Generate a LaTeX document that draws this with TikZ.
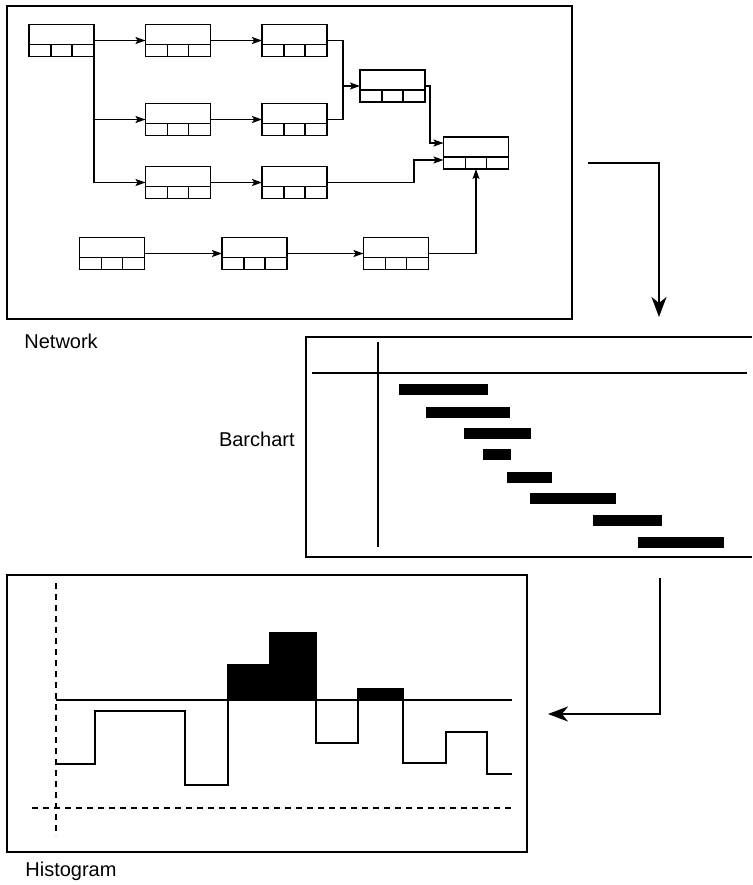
\documentclass[tikz,border=0pt]{standalone}
\usepackage{fontspec}
\setmainfont{Liberation Sans}
\usepackage{tikz}
\usetikzlibrary{arrows.meta, positioning}

\begin{document}
\begin{tikzpicture}[
    x=0.5pt, y=-0.5pt,
    actbox/.style={rectangle, draw, line width=0.9pt, minimum width=32.5pt, minimum height=16pt, inner sep=0pt, outer sep=0pt,
        path picture={
            \draw[line width=0.9pt] ([yshift=6pt]path picture bounding box.south west) -- ([yshift=6pt]path picture bounding box.south east);
            \draw[line width=0.9pt] ([xshift=11pt]path picture bounding box.south west) -- ([xshift=11pt,yshift=6pt]path picture bounding box.south west);
            \draw[line width=0.9pt] ([xshift=-11pt]path picture bounding box.south east) -- ([xshift=-11pt,yshift=6pt]path picture bounding box.south east);
        }},
    frame/.style={draw, line width=1pt},
    label/.style={font=\fontsize{10}{12}\selectfont, inner sep=0pt},
    arrow/.style={-{Stealth[length=5pt, width=3.5pt, inset=1pt]}, line width=0.6pt},
    bigarrow/.style={-{Stealth[length=10pt, width=7.5pt, inset=3pt]}, line width=1pt},
    hline/.style={line width=0.9pt},
    dline/.style={line width=0.8pt, dash pattern=on 3pt off 2.5pt}
]
\useasboundingbox (0,0) rectangle (752,885);

% Network panel
\draw[frame] (7,6) rectangle (572,319);
\node[label, anchor=base west] (netlabel) at (24,348) {Network};

% Activities
\node[actbox] (a1) at (61.5,40.5) {};
\node[actbox, right=25.75pt of a1] (a2) {};
\node[actbox, right=25.75pt of a2] (a3) {};
\node[actbox, below=23.5pt of a2] (b2) {};
\node[actbox, below=23.5pt of a3] (b3) {};
\node[actbox, below=15.5pt of b2] (c2) {};
\node[actbox, below=15.5pt of b3] (c3) {};
\node[actbox, below right=6.75pt and 16.5pt of a3] (m) {};
\node[actbox, below right=17.5pt and 9.25pt of m] (f) {};
\node[actbox] (d1) at (112,253.5) {};
\node[actbox, right=38.75pt of d1] (d2) {};
\node[actbox, right=38.25pt of d2] (d3) {};

% Junctions
\coordinate (j1) at (343,86);
\coordinate (j2) at (430,143);
\coordinate (j3) at (414,160);

% Links
\draw[arrow] (a1) -- (a2);
\draw[arrow] (a2) -- (a3);
\draw[arrow] (b2) -- (b3);
\draw[arrow] (c2) -- (c3);
\draw[arrow] (a1.east) |- (b2.west);
\draw[arrow] (a1.east) |- (c2.west);
\draw[arrow] (a3.east) -| (j1) -- (m.west);
\draw[line width=0.6pt] (b3.east) -| (j1);
\draw[arrow] (m.east) -| (j2) -- (j2 -| f.west);
\draw[arrow] (c3.east) -| (j3) -- (j3 -| f.west);
\draw[arrow] (d1) -- (d2);
\draw[arrow] (d2) -- (d3);
\draw[arrow] (d3.east) -| (f.south);

% Barchart panel
\draw[frame] (752,337) -| (306,557) -- (752,557);
\node[label, anchor=base east] (barlabel) at (295,446) {Barchart};
\draw[hline] (378,342) -- (378,547);
\draw[hline] (312,373) -- (747,373);
\foreach \xa/\xb/\ya in {399/488/384, 426/510/407, 464/531/428, 483/511/449, 507/552/472, 530/616/493, 593/662/515, 638/724/537}
    \fill (\xa,\ya) rectangle (\xb,\ya+11);

% Histogram panel
\draw[frame] (7,575) rectangle (527,852);
\node[label, anchor=base west] (histlabel) at (25,876) {Histogram};
\draw[dline] (56,583) -- (56,836);
\draw[dline] (32,808) -- (512,808);
\draw[hline] (56,700) -- (512,700);
\fill (228,700) -- (228,665) -- (270,665) -- (270,633) -- (316,633) -- (316,700) -- cycle;
\fill (358,700) rectangle (403,689);
\draw[hline] (56,764) -| (95,711) -| (185,785) -| (228,665) -| (270,633) -| (316,743) -| (358,689) -| (403,763) -| (446,732) -| (487,774) -- (512,774);

% Flow between panels
\coordinate (netout) at (588,163);
\coordinate (barin) at (659,317);
\coordinate (barout) at (660,578);
\coordinate (histin) at (548,714);
\draw[bigarrow] (netout) -| (barin);
\draw[bigarrow] (barout) |- (histin);

\end{tikzpicture}
\end{document}
